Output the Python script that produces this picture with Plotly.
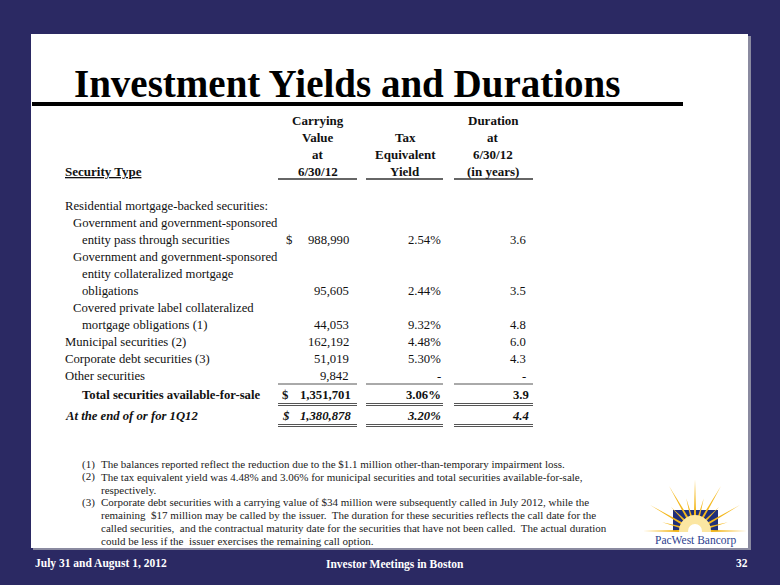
import math
import plotly.graph_objects as go

# ---------------- data ----------------
title = "Investment Yields and Durations"
col_headers = [
    ["Carrying", "Value", "at", "6/30/12"],
    ["", "Tax", "Equivalent", "Yield"],
    ["Duration", "at", "6/30/12", "(in years)"],
]
row_labels = [
    "Residential mortgage-backed securities:",
    "Government and government-sponsored",
    "entity pass through securities",
    "Government and government-sponsored",
    "entity collateralized mortgage",
    "obligations",
    "Covered private label collateralized",
    "mortgage obligations (1)",
    "Municipal securities (2)",
    "Corporate debt securities (3)",
    "Other securities",
]
row_indent = [0, 1, 2, 1, 2, 2, 1, 2, 0, 0, 0]
carrying_value = ["", "", "988,990", "", "", "95,605", "", "44,053", "162,192", "51,019", "9,842"]
dollar_sign = ["", "", "$", "", "", "", "", "", "", "", ""]
tax_yield = ["", "", "2.54%", "", "", "2.44%", "", "9.32%", "4.48%", "5.30%", "-"]
duration = ["", "", "3.6", "", "", "3.5", "", "4.8", "6.0", "4.3", "-"]

total_label = "Total securities available-for-sale"
total_values = ["$ 1,351,701", "3.06%", "3.9"]
q_label = "At the end of or for 1Q12"
q_values = ["$ 1,380,878", "3.20%", "4.4"]

footnotes = [
    ("(1)", ["The balances reported reflect the reduction due to the $1.1 million other-than-temporary impairment loss."]),
    ("(2)", ["The tax equivalent yield was 4.48% and 3.06% for municipal securities and total securities available-for-sale,",
             "respectively."]),
    ("(3)", ["Corporate debt securities with a carrying value of $34 million were subsequently called in July 2012, while the",
             "remaining  $17 million may be called by the issuer.  The duration for these securities reflects the call date for the",
             "called securities,  and the contractual maturity date for the securities that have not been called.  The actual duration",
             "could be less if the  issuer exercises the remaining call option."]),
]
footer_left = "July 31 and August 1, 2012"
footer_center = "Investor Meetings in Boston"
page_number = "32"
logo_text = "PacWest Bancorp"

# ---------------- styling ----------------
NAVY = "#2B2963"
SERIF = "Liberation Serif, Times New Roman, serif"
TXT = "#111111"

fig = go.Figure()
ann = []
shapes = []


def text(x, y, s, size=13, bold=False, italic=False, anchor="left", color=TXT, family=SERIF):
    if bold:
        s = "<b>" + s + "</b>"
    if italic:
        s = "<i>" + s + "</i>"
    ann.append(dict(x=x, y=y, xref="x", yref="y", text=s, showarrow=False,
                    xanchor=anchor, yanchor="middle",
                    font=dict(family=family, size=size, color=color)))


def hline(x0, x1, y, w=1, color="#555555"):
    shapes.append(dict(type="line", xref="x", yref="y", x0=x0, x1=x1, y0=y, y1=y,
                       line=dict(color=color, width=w)))


# white panel with slight shadow
shapes.append(dict(type="rect", xref="x", yref="y", x0=33, x1=751, y0=36, y1=550,
                   fillcolor="#8a8aa0", line=dict(width=0), layer="below"))
shapes.append(dict(type="rect", xref="x", yref="y", x0=31, x1=748, y0=34, y1=548,
                   fillcolor="white", line=dict(width=0), layer="below"))

# title
text(72, 83, title, size=39, bold=True, color="#000000")
shapes.append(dict(type="rect", xref="x", yref="y", x0=32, x1=683, y0=102, y1=106,
                   fillcolor="#000000", line=dict(width=0)))

# headers
col_center = [318, 405, 493]
col_right = [351, 443, 528]
col_span = [(278, 357), (366, 443), (454, 533)]
hdr_y = [120, 137, 154, 171]
for c, lines in enumerate(col_headers):
    for i, s in enumerate(lines):
        if s:
            text(col_center[c], hdr_y[i], s, size=13, bold=True, anchor="center")
text(63, hdr_y[3], "<u>Security Type</u>", size=13, bold=True)
for a, b in col_span:
    hline(a, b, 179, w=1.5, color="#333333")

# body rows
FS = 12.7
row_y0 = 206
row_step = 17
indent_px = [63, 71, 80]
for i, lab in enumerate(row_labels):
    y = row_y0 + i * row_step
    text(indent_px[row_indent[i]], y, lab, size=FS)
    if dollar_sign[i]:
        text(284, y, dollar_sign[i], size=FS)
    if carrying_value[i]:
        text(col_right[0], y, carrying_value[i], size=FS, anchor="right")
    if tax_yield[i]:
        text(col_right[1], y, tax_yield[i], size=FS, anchor="right")
    if duration[i]:
        text(col_right[2], y, duration[i], size=FS, anchor="right")

last_y = row_y0 + (len(row_labels) - 1) * row_step
line1 = last_y + 8
for a, b in col_span:
    hline(a, b, line1, w=1)

tot_y = line1 + 11
text(80, tot_y, total_label, size=FS, bold=True)
text(280, tot_y, total_values[0].split(" ", 1)[0], size=FS, bold=True)
text(col_right[0] + 2, tot_y, total_values[0].split(" ", 1)[1], size=FS, bold=True, anchor="right")
text(col_right[1], tot_y, total_values[1], size=FS, bold=True, anchor="right")
text(col_right[2] + 3, tot_y, total_values[2], size=FS, bold=True, anchor="right")
for a, b in col_span:
    hline(a, b, tot_y + 8.5, w=1)
    hline(a, b, tot_y + 10.5, w=1)

q_y = tot_y + 21
text(63, q_y, q_label, size=FS, bold=True, italic=True)
text(280, q_y, q_values[0].split(" ", 1)[0], size=FS, bold=True, italic=True)
text(col_right[0] + 2, q_y, q_values[0].split(" ", 1)[1], size=FS, bold=True, italic=True, anchor="right")
text(col_right[1], q_y, q_values[1], size=FS, bold=True, italic=True, anchor="right")
text(col_right[2] + 3, q_y, q_values[2], size=FS, bold=True, italic=True, anchor="right")
for a, b in col_span:
    hline(a, b, q_y + 8.5, w=1)
    hline(a, b, q_y + 10.5, w=1)

# footnotes
fy = 464
fstep = 12.8
for num, lines in footnotes:
    text(80, fy, num, size=11, color="#222222")
    for ln in lines:
        text(99, fy, ln, size=11, color="#222222")
        fy += fstep

# footer
text(33, 563, footer_left, size=11.5, bold=True, color="white")
text(395, 564, footer_center, size=11.5, bold=True, anchor="center", color="white")
text(750, 563, page_number, size=11.5, bold=True, anchor="right", color="white")

# logo (decoration)
cx, cy = 695, 531
shapes.append(dict(type="rect", xref="x", yref="y", x0=673, x1=718, y0=510, y1=531,
                   fillcolor="#1F2F7A", line=dict(width=0)))
for k in range(13):
    ang = math.radians(k * 15)
    L = 52 if k % 2 == 0 else 34
    w = math.radians(3.2)
    r0 = 8
    pts = [
        (cx + r0 * math.cos(ang - w * 3), cy - r0 * math.sin(ang - w * 3)),
        (cx + L * math.cos(ang), cy - L * math.sin(ang)),
        (cx + r0 * math.cos(ang + w * 3), cy - r0 * math.sin(ang + w * 3)),
    ]
    path = "M {:.1f} {:.1f} L {:.1f} {:.1f} L {:.1f} {:.1f} Z".format(*pts[0], *pts[1], *pts[2])
    shapes.append(dict(type="path", xref="x", yref="y", path=path,
                       fillcolor="#F4B81C", line=dict(width=0)))
shapes.append(dict(type="circle", xref="x", yref="y", x0=cx - 16, x1=cx + 16, y0=cy - 16, y1=cy + 16,
                   fillcolor="#FBE6A2", line=dict(width=0)))
shapes.append(dict(type="circle", xref="x", yref="y", x0=cx - 7, x1=cx + 7, y0=cy - 7, y1=cy + 7,
                   fillcolor="#FFFFFF", line=dict(width=0)))
shapes.append(dict(type="rect", xref="x", yref="y", x0=640, x1=748, y0=532, y1=547,
                   fillcolor="white", line=dict(width=0)))
text(695, 540, logo_text, size=11.5, anchor="center", color="#2E3F8F")

fig.update_layout(
    width=780, height=585,
    margin=dict(l=0, r=0, t=0, b=0),
    paper_bgcolor=NAVY, plot_bgcolor=NAVY,
    xaxis=dict(range=[0, 780], visible=False, fixedrange=True),
    yaxis=dict(range=[585, 0], visible=False, fixedrange=True),
    annotations=ann, shapes=shapes, showlegend=False,
)
fig.write_html(
    "out.html",
    config={"displayModeBar": False},
    post_script="document.body.style.margin='0px';document.body.style.background='" + NAVY + "';",
)
